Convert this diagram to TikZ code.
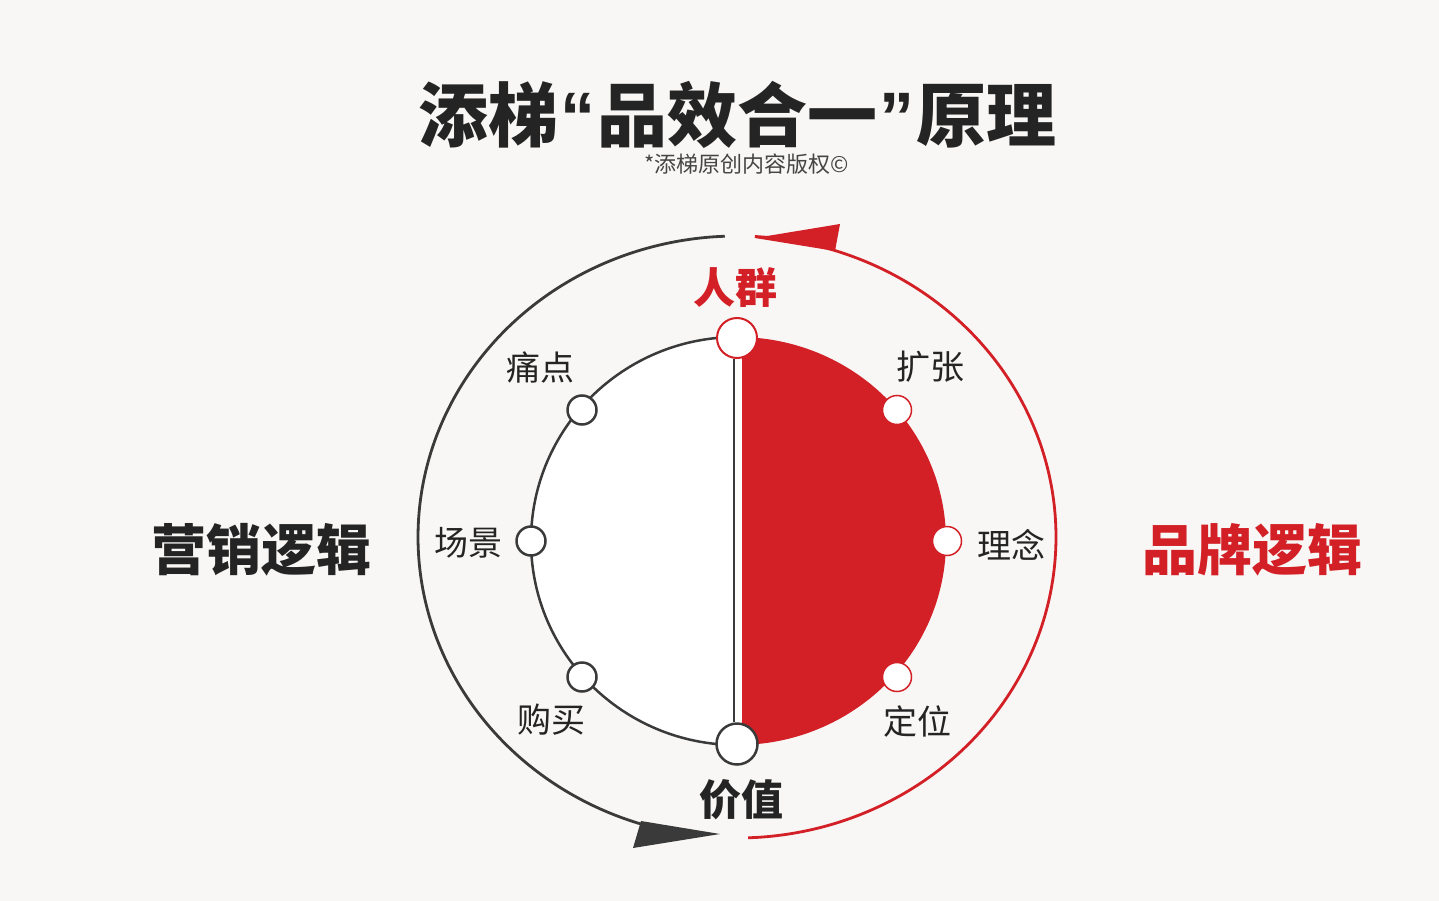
\documentclass[tikz,border=0pt]{standalone}
\usepackage{fontspec}
\setmainfont{Noto Sans CJK SC}
\newfontfamily\quotefont{Liberation Sans}
\definecolor{bg}{HTML}{F8F7F5}
\definecolor{brandred}{HTML}{D32027}
\definecolor{ink}{HTML}{242424}
\definecolor{linegray}{HTML}{3A3A3A}
\newcommand{\tq}[1]{{\quotefont\bfseries\hspace{2pt}#1\hspace{2pt}}}
\begin{document}
\begin{tikzpicture}[x=1pt,y=-1pt,
  bigdot/.style={circle,fill=white,minimum size=40pt,inner sep=0pt},
  smalldot/.style={circle,fill=white,minimum size=29pt,inner sep=0pt},
  lbl/.style={inner sep=0pt,text=ink,font=\fontsize{34}{34}\selectfont},
  keylbl/.style={inner sep=0pt,font=\bfseries\fontsize{42}{42}\selectfont},
  sidelbl/.style={inner sep=0pt,font=\bfseries\fontsize{55}{55}\selectfont},
  ringline/.style={line width=2.8pt},
  rimline/.style={line width=2.5pt,draw=linegray}]
\fill[bg] (0,0) rectangle (1439,901);
\useasboundingbox (0,0) rectangle (1439,901);

% title
\node[inner sep=0pt,text=ink,font=\bfseries\fontsize{70}{70}\selectfont] (title) at (737,115) {添梯\tq{“}品效合一\tq{”}原理};
\node[inner sep=0pt,text=ink!85,font=\fontsize{22}{22}\selectfont] (sub) at (747,164) {*添梯原创内容版权©};

% outer ring
\draw[ringline,draw=linegray] plot[domain=100:267.8,samples=120,smooth] ({737+319*cos(\x)},{537+301*sin(\x)});
\draw[ringline,draw=brandred] plot[domain=273.2:448,samples=120,smooth] ({737+319*cos(\x)},{537+301*sin(\x)});
\fill[brandred] (755,238) -- (840,224) -- (835,251) -- cycle;
\fill[linegray] (720,834) -- (641,821) -- (633,848) -- cycle;

% inner disk
\fill[white] (737,337) arc[start angle=90,end angle=270,x radius=206pt,y radius=204pt] -- cycle;
\fill[brandred] (737,337) arc[start angle=90,end angle=-90,x radius=209pt,y radius=204pt] -- cycle;
\fill[white] (734,337) rectangle (742,745);
\draw[rimline] (737,337) arc[start angle=90,end angle=270,x radius=206pt,y radius=204pt];

% nodes
\node[bigdot,draw=brandred,line width=2pt] (ntop) at (737,338) {};
\node[bigdot,draw=linegray,line width=2.5pt,minimum size=41pt] (nbot) at (737,744) {};
\draw[rimline] ([xshift=-3pt]ntop.south) -- ([xshift=-3pt]nbot.north);

\node[smalldot,draw=linegray,line width=2.5pt] (npain) at (582,410) {};
\node[smalldot,draw=linegray,line width=2.5pt] (nscene) at (531,541) {};
\node[smalldot,draw=linegray,line width=2.5pt] (nbuy) at (582,677) {};
\node[smalldot,draw=brandred,line width=1.5pt] (nexp) at (897,410) {};
\node[smalldot,draw=brandred,line width=1.5pt] (nidea) at (947,541) {};
\node[smalldot,draw=brandred,line width=1.5pt] (npos) at (897,677) {};

% labels
\node[keylbl,text=brandred] (lcrowd) at (735,288) {人群};
\node[keylbl,text=ink] (lvalue) at (741,800) {价值};
\node[lbl] (lpain) at (540,367) {痛点};
\node[lbl] (lexp) at (930,367) {扩张};
\node[lbl] (lscene) at (468,543) {场景};
\node[lbl] (lidea) at (1011,545) {理念};
\node[lbl] (lbuy) at (551,720) {购买};
\node[lbl] (lpos) at (917,722) {定位};

\node[sidelbl,text=ink] (lmkt) at (261,550) {营销逻辑};
\node[sidelbl,text=brandred] (lbrand) at (1252,550) {品牌逻辑};
\end{tikzpicture}
\end{document}
